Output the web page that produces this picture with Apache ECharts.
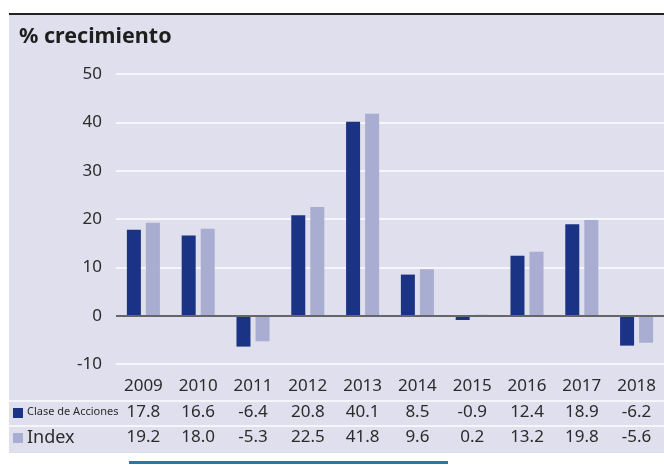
<!DOCTYPE html>
<html>
<head>
<meta charset="utf-8">
<script src="https://cdn.jsdelivr.net/npm/echarts@6/dist/echarts.min.js"></script>
<style>
html,body{margin:0;padding:0;background:#fff;}
#chart{width:664px;height:474px;}
</style>
</head>
<body>
<div id="chart"></div>
<script>
var years = ['2009','2010','2011','2012','2013','2014','2015','2016','2017','2018'];
var claseAcciones = [17.8, 16.6, -6.4, 20.8, 40.1, 8.5, -0.9, 12.4, 18.9, -6.2];
var indexVals = [19.2, 18.0, -5.3, 22.5, 41.8, 9.6, 0.2, 13.2, 19.8, -5.6];
var yTicks = [-10, 0, 10, 20, 30, 40, 50];

var font = 'Noto Sans';
var darkBlue = '#1b3384';
var lightBlue = '#a9add1';
var panel = '#dfdfed';

function fmt(v){
	return v.toFixed(1);
}

var myChart = echarts.init(document.getElementById('chart'));

// tabla de valores debajo del eje: ejes extra desplazados
function rowAxis(vals, off){
	return {
		type: 'category',
		data: vals.map(fmt),
		position: 'bottom',
		offset: off,
		axisLine: {show: false},
		axisTick: {show: false},
		splitLine: {show: false},
		axisLabel: {margin: 14, fontSize: 17, color: '#2b2b2b', fontFamily: font, interval: 0}
	};
}

option = {
	backgroundColor: '#ffffff',
	animation: false,
	title: {
		text: '% crecimiento',
		left: 14,
		top: 21,
		textStyle: {fontSize: 21.5, fontWeight: 'bold', color: '#1e1e1e', fontFamily: font}
	},
	grid: {left: 116, right: 0, top: 74, bottom: 110, containLabel: false},
	xAxis: [
		{
			type: 'category',
			data: years,
			position: 'bottom',
			axisLine: {show: false, onZero: false},
			axisTick: {show: false},
			axisLabel: {margin: 14, fontSize: 17, color: '#2b2b2b', fontFamily: font, interval: 0}
		},
		rowAxis(claseAcciones, 26),
		rowAxis(indexVals, 51)
	],
	yAxis: {
		type: 'value',
		min: yTicks[0],
		max: yTicks[yTicks.length - 1],
		interval: 10,
		axisLine: {show: false},
		axisTick: {show: false},
		axisLabel: {margin: 14, fontSize: 17, color: '#2b2b2b', fontFamily: font},
		splitLine: {lineStyle: {color: '#f5f5fb', width: 2}}
	},
	series: [
		{
			name: 'Clase de Acciones',
			type: 'bar',
			data: claseAcciones,
			barWidth: 14,
			barGap: '36%',
			itemStyle: {color: darkBlue},
			markLine: {
				silent: true,
				symbol: 'none',
				label: {show: false},
				lineStyle: {color: '#666666', width: 2, type: 'solid'},
				data: [{yAxis: 0}]
			}
		},
		{
			name: 'Index',
			type: 'bar',
			data: indexVals,
			barWidth: 14,
			itemStyle: {color: lightBlue}
		}
	],
	graphic: [
		{type: 'rect', z: -10, shape: {x: 9, y: 14, width: 655, height: 439}, style: {fill: panel}},
		{type: 'rect', z: -9, shape: {x: 9, y: 13, width: 655, height: 2}, style: {fill: '#222222'}},
		{type: 'rect', z: -9, shape: {x: 9, y: 400, width: 655, height: 2}, style: {fill: '#f5f5fb'}},
		{type: 'rect', z: -9, shape: {x: 9, y: 425, width: 655, height: 2}, style: {fill: '#f5f5fb'}},
		{type: 'rect', shape: {x: 13, y: 408, width: 10, height: 10}, style: {fill: darkBlue}},
		{type: 'rect', shape: {x: 13, y: 433, width: 10, height: 10}, style: {fill: lightBlue}},
		{type: 'text', left: 27, top: 406, style: {text: 'Clase de Acciones', fontSize: 11, fill: '#2b2b2b', fontFamily: font}},
		{type: 'text', left: 27, top: 429, style: {text: 'Index', fontSize: 18, fill: '#2b2b2b', fontFamily: 'Liberation Sans Narrow, ' + font}},
		{type: 'rect', shape: {x: 129, y: 461, width: 319, height: 3}, style: {fill: '#1a7fa3'}}
	]
};

myChart.setOption(option);
</script>
</body>
</html>
